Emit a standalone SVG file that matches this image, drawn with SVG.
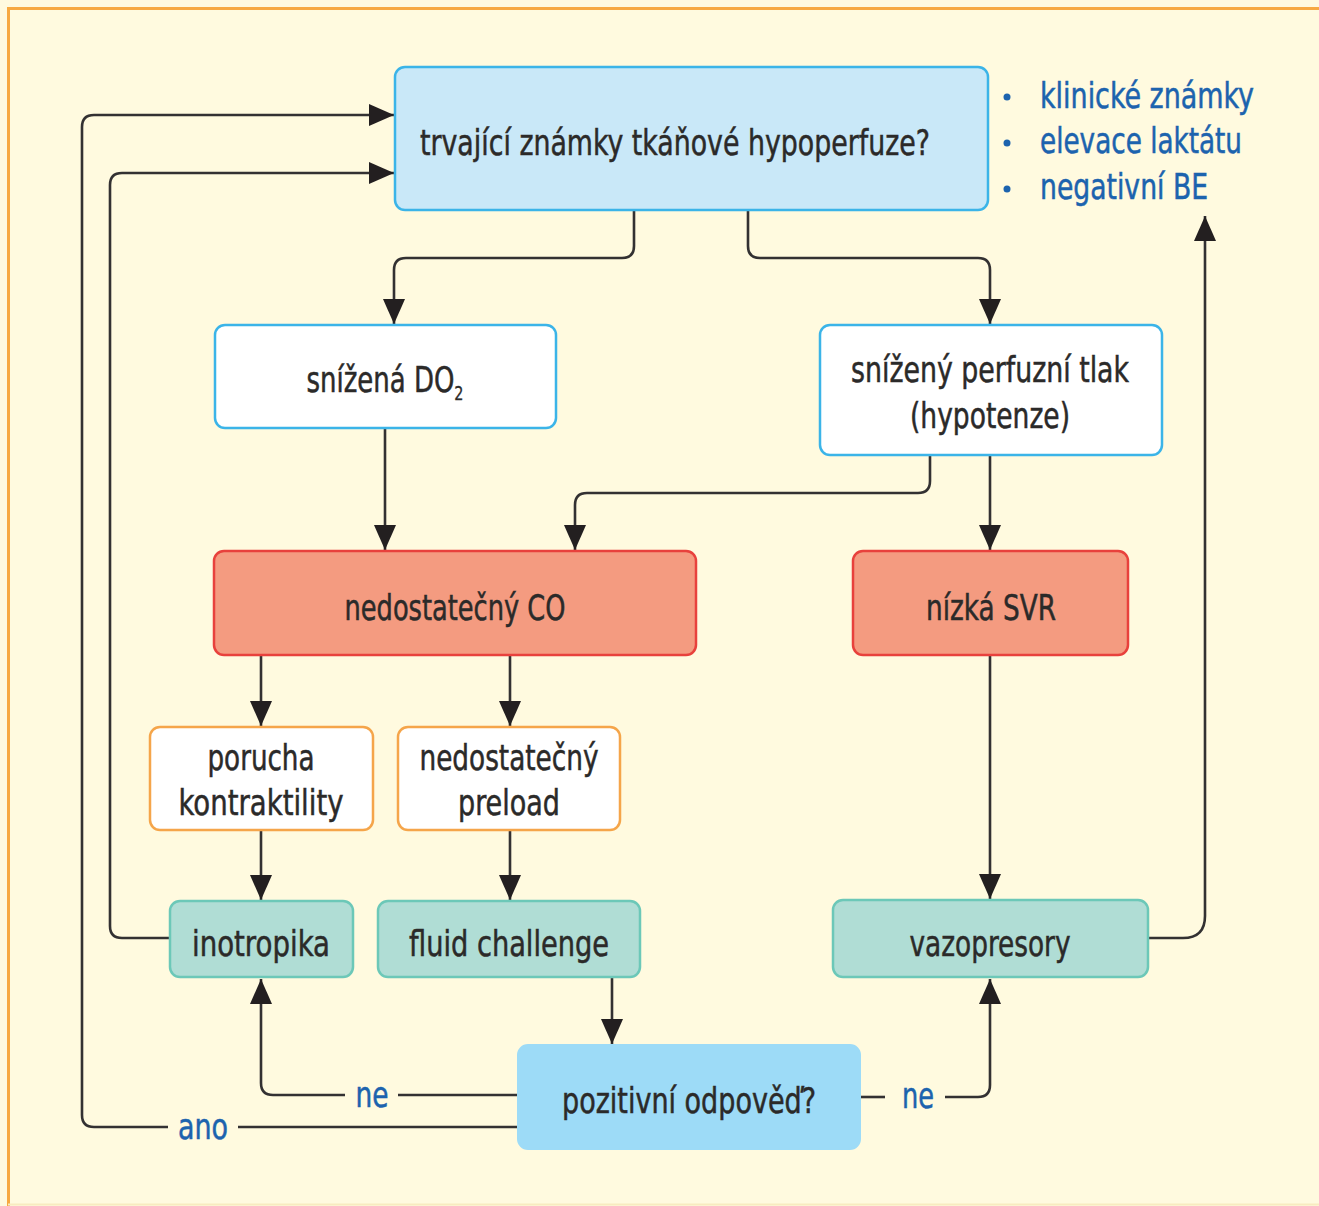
<svg xmlns="http://www.w3.org/2000/svg" width="1319" height="1206" viewBox="0 0 1319 1206">
<defs>
<marker id="ah" markerUnits="userSpaceOnUse" markerWidth="26" markerHeight="22" refX="25" refY="11" orient="auto">
<path d="M0,0 L25,11 L0,22 z" fill="#231F20"/>
</marker>
<style>
text{font-family:"Liberation Sans Narrow","DejaVu Sans Condensed","Liberation Sans",sans-serif;font-size:36px;fill:#2B2A29;stroke:#2B2A29;stroke-width:0.5;text-anchor:middle}
.blue{fill:#1C63AE;stroke:#1C63AE}
.lbl{fill:#1C63AE;stroke:#1C63AE}
.sub{font-size:20px;stroke-width:0.3}
.b-top{fill:#C9E8F8;stroke:#3BB4E8;stroke-width:2.5}
.b-white{fill:#FFFFFF;stroke:#3BB4E8;stroke-width:2.5}
.b-red{fill:#F49B80;stroke:#E8413C;stroke-width:2.5}
.b-orange{fill:#FFFFFF;stroke:#F5A54A;stroke-width:2.5}
.b-green{fill:#B0DDD5;stroke:#6CC8B8;stroke-width:2.5}
.b-q{fill:#9DDBF7;stroke:#9DDBF7;stroke-width:2}
.c{fill:none;stroke:#333132;stroke-width:2.6}
</style>
</defs>
<rect x="0" y="0" width="1319" height="1206" fill="#FFFADF"/>
<path d="M8.5,1206 V8.5 H1319" fill="none" stroke="#F7A941" stroke-width="3"/>
<path d="M8,1204.5 H1319" fill="none" stroke="#F8EBC0" stroke-width="2"/>

<g id="connectors">
<path class="c" d="M634,210 V246 Q634,258 622,258 H406 Q394,258 394,270 V324" marker-end="url(#ah)"/>
<path class="c" d="M748,210 V246 Q748,258 760,258 H978 Q990,258 990,270 V324" marker-end="url(#ah)"/>
<path class="c" d="M385,428 V550" marker-end="url(#ah)"/>
<path class="c" d="M930,455 V481 Q930,493 918,493 H587 Q575,493 575,505 V550" marker-end="url(#ah)"/>
<path class="c" d="M990,455 V550" marker-end="url(#ah)"/>
<path class="c" d="M261,655 V726" marker-end="url(#ah)"/>
<path class="c" d="M510,655 V726" marker-end="url(#ah)"/>
<path class="c" d="M261,830 V900" marker-end="url(#ah)"/>
<path class="c" d="M510,830 V900" marker-end="url(#ah)"/>
<path class="c" d="M990,655 V899" marker-end="url(#ah)"/>
<path class="c" d="M612,977 V1044" marker-end="url(#ah)"/>
<path class="c" d="M518,1095 H398"/>
<path class="c" d="M345,1095 H273 Q261,1095 261,1083 V979" marker-end="url(#ah)"/>
<path class="c" d="M518,1127 H238"/>
<path class="c" d="M168,1127 H94 Q82,1127 82,1115 V127 Q82,115 94,115 H394" marker-end="url(#ah)"/>
<path class="c" d="M170,938 H122 Q110,938 110,926 V185 Q110,173 122,173 H394" marker-end="url(#ah)"/>
<path class="c" d="M860,1097 H885"/>
<path class="c" d="M945,1097 H978 Q990,1097 990,1085 V979" marker-end="url(#ah)"/>
<path class="c" d="M1148,938 H1183 Q1205,938 1205,916 V216" marker-end="url(#ah)"/>
<text class="lbl" x="372" y="1107" textLength="33" lengthAdjust="spacingAndGlyphs">ne</text>
<text class="lbl" x="203" y="1139" textLength="50" lengthAdjust="spacingAndGlyphs">ano</text>
<text class="lbl" x="918" y="1108" textLength="32" lengthAdjust="spacingAndGlyphs">ne</text>
</g>

<g id="n-top">
<rect class="b-top" x="395" y="67" width="593" height="143" rx="10"/>
<text x="675" y="155" textLength="510" lengthAdjust="spacingAndGlyphs">trvající známky tkáňové hypoperfuze?</text>
</g>

<g id="n-bullets">
<circle cx="1007" cy="97" r="3.5" fill="#1C63AE"/>
<circle cx="1007" cy="143" r="3.5" fill="#1C63AE"/>
<circle cx="1007" cy="189" r="3.5" fill="#1C63AE"/>
<text class="blue" x="1147" y="108" textLength="214" lengthAdjust="spacingAndGlyphs">klinické známky</text>
<text class="blue" x="1141" y="153" textLength="202" lengthAdjust="spacingAndGlyphs">elevace laktátu</text>
<text class="blue" x="1124" y="199" textLength="168" lengthAdjust="spacingAndGlyphs">negativní BE</text>
</g>

<g id="n-do2">
<rect class="b-white" x="215" y="325" width="341" height="103" rx="10"/>
<text x="385" y="392" textLength="157" lengthAdjust="spacingAndGlyphs">snížená DO<tspan class="sub" dy="8">2</tspan></text>
</g>

<g id="n-tlak">
<rect class="b-white" x="820" y="325" width="342" height="130" rx="10"/>
<text x="990" y="382" textLength="278" lengthAdjust="spacingAndGlyphs">snížený perfuzní tlak</text>
<text x="990" y="428" textLength="160" lengthAdjust="spacingAndGlyphs">(hypotenze)</text>
</g>

<g id="n-co">
<rect class="b-red" x="214" y="551" width="482" height="104" rx="10"/>
<text x="455" y="620" textLength="221" lengthAdjust="spacingAndGlyphs">nedostatečný CO</text>
</g>

<g id="n-svr">
<rect class="b-red" x="853" y="551" width="275" height="104" rx="10"/>
<text x="991" y="620" textLength="130" lengthAdjust="spacingAndGlyphs">nízká SVR</text>
</g>

<g id="n-kontraktilita">
<rect class="b-orange" x="150" y="727" width="223" height="103" rx="10"/>
<text x="261" y="770" textLength="107" lengthAdjust="spacingAndGlyphs">porucha</text>
<text x="261" y="815" textLength="165" lengthAdjust="spacingAndGlyphs">kontraktility</text>
</g>

<g id="n-preload">
<rect class="b-orange" x="398" y="727" width="222" height="103" rx="10"/>
<text x="509" y="770" textLength="179" lengthAdjust="spacingAndGlyphs">nedostatečný</text>
<text x="509" y="815" textLength="102" lengthAdjust="spacingAndGlyphs">preload</text>
</g>

<g id="n-inotropika">
<rect class="b-green" x="170" y="901" width="183" height="76" rx="10"/>
<text x="261" y="956" textLength="138" lengthAdjust="spacingAndGlyphs">inotropika</text>
</g>

<g id="n-fluid">
<rect class="b-green" x="378" y="901" width="262" height="76" rx="10"/>
<text x="509" y="956" textLength="200" lengthAdjust="spacingAndGlyphs">fluid challenge</text>
</g>

<g id="n-vazo">
<rect class="b-green" x="833" y="900" width="315" height="77" rx="10"/>
<text x="990" y="956" textLength="161" lengthAdjust="spacingAndGlyphs">vazopresory</text>
</g>

<g id="n-odpoved">
<rect class="b-q" x="518" y="1045" width="342" height="104" rx="10"/>
<text x="689" y="1113" textLength="254" lengthAdjust="spacingAndGlyphs">pozitivní odpověď?</text>
</g>
</svg>
